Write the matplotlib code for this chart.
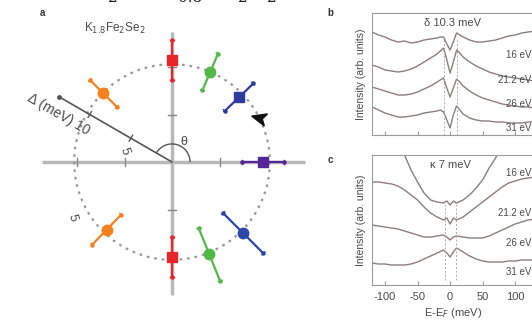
import numpy as np
import matplotlib
matplotlib.use('Agg')
import matplotlib.pyplot as plt
from matplotlib.patches import Arc, Circle, Polygon

plt.rcParams['font.family'] = ['Liberation Sans', 'DejaVu Sans']
plt.rcParams['axes.unicode_minus'] = False

# panel a: gap around the Fermi surface (angle in deg, gap in meV)
gap_angles = [90, 67, 44, 0, 135, 226, 270, 292, 315]
gap_values = [10.7, 10.3, 9.8, 9.6, 10.2, 9.9, 10.0, 10.5, 10.6]
gap_errors = [2.1, 2.1, 2.1, 2.2, 2.0, 2.2, 2.1, 3.0, 3.0]
gap_colors = ['#e8252b', '#52b848', '#2e3a9e', '#55259a', '#f5821f',
              '#f5821f', '#e8252b', '#52b848', '#2e45a8']
gap_markers = ['s', 'o', 's', 's', 'o', 'o', 's', 'o', 'o']
circle_gap = 10.3

# panels b, c: EDCs (arb. units) vs E-EF (meV)
energy = [-120, -110, -100, -90, -80, -70, -60, -50, -40, -30, -20, -15, -10, -5,
          0, 5, 10, 15, 20, 30, 40, 50, 60, 70, 80, 90, 100, 110, 120, 130]
delta_16 = [103, 100, 98, 95, 93, 94, 92, 93, 95, 96, 97, 98, 98, 91,
            85, 93, 102, 100, 98, 95, 93, 93, 94, 95, 97, 99, 100, 102, 103, 104]
delta_21 = [70, 68, 65, 64, 63, 64, 66, 69, 73, 77, 81, 84, 87, 75,
            62, 73, 85, 82, 78, 73, 69, 66, 63, 61, 59, 58, 57, 56, 55, 54]
delta_26 = [48, 46, 44, 42, 40, 40, 41, 43, 46, 49, 53, 55, 57, 47,
            38, 47, 56, 53, 49, 44, 40, 37, 35, 33, 31, 30, 29, 28, 28, 27]
delta_31 = [28, 25, 22, 20, 18, 18, 19, 20, 22, 23, 24, 25, 23, 15,
            7, 20, 29, 25, 21, 17, 15, 14, 14, 13, 13, 12, 12, 12, 13, 13]

energy_c = [-120, -110, -100, -90, -80, -70, -60, -50, -40, -30, -20, -10, -5, 0,
            5, 10, 20, 30, 40, 50, 60, 70, 80, 90, 100, 110, 120, 130]
kappa_16 = [300, 260, 220, 180, 140, 130, 115, 103, 92, 85, 83, 82, 84, 80,
            84, 82, 85, 90, 97, 105, 117, 127, 140, 180, 220, 260, 300, 340]
kappa_21 = [103, 103, 102, 101, 99, 95, 90, 85, 78, 72, 68, 65, 67, 61,
            67, 65, 68, 73, 78, 83, 88, 93, 98, 102, 104, 106, 107, 108]
kappa_26 = [60, 59, 58, 57, 56, 54, 52, 50, 48, 48, 49, 50, 48, 45,
            48, 49, 48, 47, 47, 47, 49, 52, 55, 58, 61, 63, 65, 66]
kappa_31 = [22, 21, 21, 20, 20, 20, 21, 23, 26, 29, 32, 35, 32, 28,
            33, 37, 33, 29, 26, 24, 23, 23, 23, 24, 24, 25, 25, 25]

photon = ['16 eV', '21.2 eV', '26 eV', '31 eV']
label_b_y = [80, 55, 31, 7]
label_c_y = [112, 72, 42, 13]
gap_lines_b = [-10, 10]
gap_lines_c = [-8, 9]

line_col = '#8a7e7e'
txt_col = '#4a4a4a'

fig = plt.figure(figsize=(5.32, 3.2), dpi=100)

# ---------- panel a ----------
scale = 9.5  # px per meV
ax = fig.add_axes([0, 0, 340 / 532, 1])
ax.set_xlim(-172 / scale, 168 / scale)
ax.set_ylim(-158 / scale, 162 / scale)
ax.axis('off')

ax.plot([-13.7, 14.0], [0, 0], color='#b8b8b8', lw=2.5, zorder=1, solid_capstyle='butt')
ax.plot([0, 0], [-14.0, 13.7], color='#b8b8b8', lw=2.5, zorder=1, solid_capstyle='butt')
for t in [-10, -5, 5, 10]:
    ax.plot([t, t], [-0.4, 0.4], color='#888888', lw=1, zorder=2)
    ax.plot([-0.4, 0.4], [t, t], color='#888888', lw=1, zorder=2)

ax.add_patch(Circle((0, 0), circle_gap, fill=False, ls=(0, (1.2, 2.2)),
                    ec='#999999', lw=1.6, zorder=2))

# delta axis at 150 deg
phi = np.deg2rad(150)
u = np.array([np.cos(phi), np.sin(phi)])
n = np.array([-u[1], u[0]])
ax.plot([0, 13.7 * u[0]], [0, 13.7 * u[1]], color='#555555', lw=1.2, zorder=3)
ax.plot(13.7 * u[0], 13.7 * u[1], 'o', color='#555555', ms=2.5, zorder=3)
for t in [5, 10]:
    p0 = t * u - 0.35 * n
    p1 = t * u + 0.35 * n
    ax.plot([p0[0], p1[0]], [p0[1], p1[1]], color='#555555', lw=1, zorder=3)
ax.text(-11.9, 5.0, 'Δ (meV) 10', rotation=-30, ha='center', va='center',
        fontsize=10, color=txt_col)
ax.text(-5.0, 1.1, '5', rotation=-70, ha='center', va='center', fontsize=9, color=txt_col)
ax.text(-10.5, -5.8, '5', rotation=-75, ha='center', va='center', fontsize=9, color=txt_col)

ax.add_patch(Arc((0, 0), 3.8, 3.8, theta1=0, theta2=150, color='#555555', lw=1, zorder=3))
ax.text(1.2, 2.1, 'θ', fontsize=9, color=txt_col, ha='center', va='center')

# direction arrowhead on the circle
a = np.deg2rad(26.6)
c = circle_gap * np.array([np.cos(a), np.sin(a)])
b = np.deg2rad(165)
tdir = np.array([np.cos(b), np.sin(b)])
ndir = np.array([-tdir[1], tdir[0]])
head = [c + 0.85 * tdir, c - 0.7 * tdir + 0.65 * ndir, c - 0.3 * tdir, c - 0.7 * tdir - 0.65 * ndir]
ax.add_patch(Polygon(head, closed=True, color='#111111', zorder=5))

for ang, g, e, col, m in zip(gap_angles, gap_values, gap_errors, gap_colors, gap_markers):
    r = np.deg2rad(ang)
    d = np.array([np.cos(r), np.sin(r)])
    p = np.array([-d[1], d[0]])
    lo = (g - e) * d
    hi = (g + e) * d
    ax.plot([lo[0], hi[0]], [lo[1], hi[1]], color=col, lw=1.6, zorder=4)
    for end in (lo, hi):
        ax.plot([end[0] - 0.2 * p[0], end[0] + 0.2 * p[0]],
                [end[1] - 0.2 * p[1], end[1] + 0.2 * p[1]], color=col, lw=1.0, zorder=4)
        ax.plot(end[0], end[1], 'o', color=col, ms=2.2, zorder=4)
    ax.plot(g * d[0], g * d[1], m, color=col, ms=7.5, zorder=6)

fig.text(115 / 532, 1 - 28 / 320, 'K$_{1.8}$Fe$_2$Se$_2$', fontsize=8.5, color=txt_col,
         ha='center', va='center')
fig.text(42 / 532, 1 - 13 / 320, 'a', fontsize=7, weight='bold', color='#333333',
         ha='center', va='center')
fig.text(330 / 532, 1 - 13 / 320, 'b', fontsize=7, weight='bold', color='#333333',
         ha='center', va='center')
fig.text(330 / 532, 1 - 160 / 320, 'c', fontsize=7, weight='bold', color='#333333',
         ha='center', va='center')

# clipped text from the line above
for xs, s in zip([113, 190, 243, 272], ['2', '0.8', '2', '2']):
    fig.text(xs / 532, 1.005, s, fontsize=11, family='DejaVu Serif', color='#222222',
             ha='center', va='center')

# ---------- panels b and c ----------
def edc_axes(rect, ylim):
    a_ = fig.add_axes(rect)
    a_.set_xlim(-120, 129)
    a_.set_ylim(*ylim)
    for s in a_.spines.values():
        s.set_color('#9a9a9a')
        s.set_linewidth(0.8)
    a_.set_yticks([])
    a_.set_xticks([-100, -50, 0, 50, 100])
    a_.tick_params(axis='x', direction='in', length=3, color='#9a9a9a',
                   labelsize=8, labelcolor=txt_col, pad=5)
    a_.set_ylabel('Intensity (arb. units)', fontsize=7.5, color=txt_col, labelpad=4)
    return a_

ax_b = edc_axes([372 / 532, 185 / 320, 162 / 532, 122 / 320], (0, 122))
for yv in [delta_16, delta_21, delta_26, delta_31]:
    ax_b.plot(energy, yv, color=line_col, lw=1)
for xv in gap_lines_b:
    ax_b.axvline(xv, ymin=0.0, ymax=0.78, color='#aaaaaa', lw=0.7, ls=(0, (2, 2)))
ax_b.set_xticklabels([])
ax_b.text(3, 112, 'δ 10.3 meV', fontsize=8, color=txt_col, ha='center', va='center')
for lab, yy in zip(photon, label_b_y):
    ax_b.text(125, yy, lab, fontsize=7, color=txt_col, ha='right', va='center')

ax_c = edc_axes([372 / 532, 35 / 320, 162 / 532, 130 / 320], (0, 130))
for yv in [kappa_16, kappa_21, kappa_26, kappa_31]:
    ax_c.plot(energy_c, yv, color=line_col, lw=1)
for xv in gap_lines_c:
    ax_c.axvline(xv, ymin=0.04, ymax=0.62, color='#aaaaaa', lw=0.7, ls=(0, (2, 2)))
ax_c.text(0, 120, 'κ 7 meV', fontsize=8, color=txt_col, ha='center', va='center')
for lab, yy in zip(photon, label_c_y):
    ax_c.text(125, yy, lab, fontsize=7, color=txt_col, ha='right', va='center')
ax_c.set_xlabel('E-E$_F$ (meV)', fontsize=8, color=txt_col, labelpad=3)

fig.savefig('out.png', dpi=100, facecolor='white')
